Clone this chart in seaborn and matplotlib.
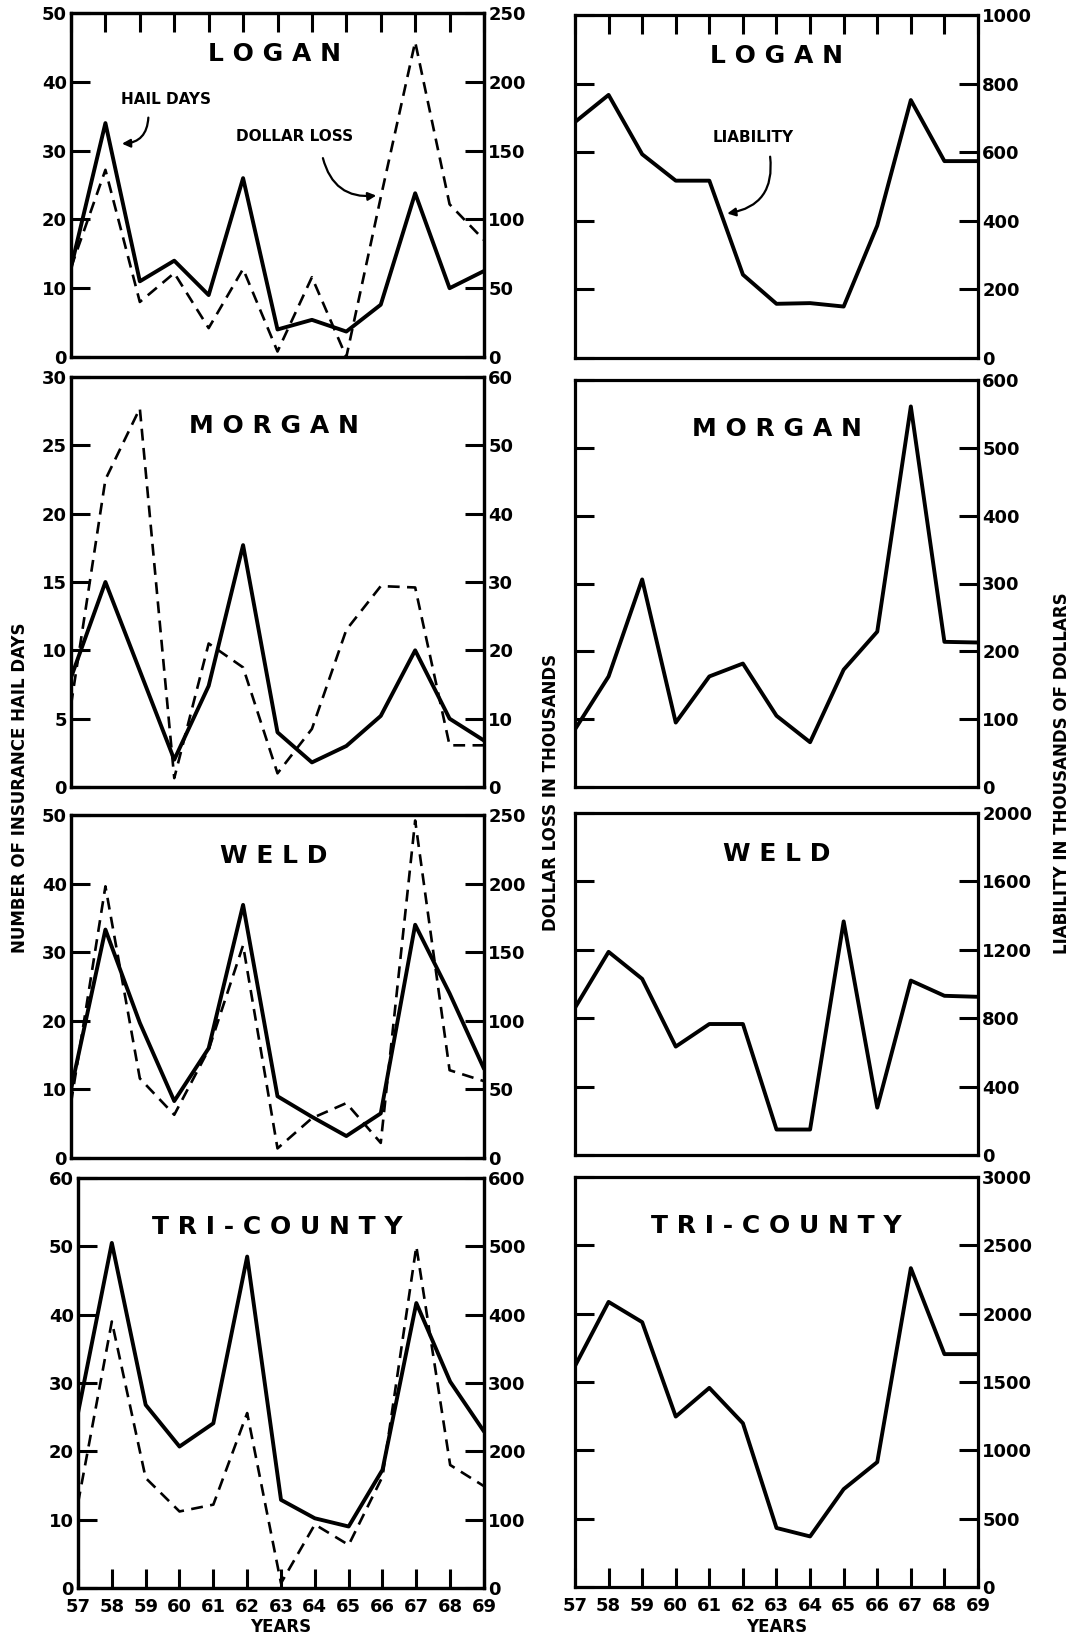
import matplotlib
matplotlib.use("Agg")
import matplotlib.pyplot as plt
from matplotlib import font_manager
import seaborn as sns

YEARS = list(range(57, 70))

# hail days (left axis), dollar loss in thousands (right axis), liability in thousands
LOGAN_DAYS = [13, 34, 11, 14, 9, 26, 4, 5.4, 3.7, 7.6, 23.8, 10, 12.5]
LOGAN_LOSS = [65, 136, 40, 61, 21, 64, 4, 58, 0, 116, 229, 111, 85]
LOGAN_LIAB = [688, 767, 594, 517, 517, 243, 158, 160, 150, 386, 752, 574, 574]

MORGAN_DAYS = [8, 15, 8.5, 2, 7.4, 17.7, 4, 1.8, 3, 5.2, 10, 5, 3.4]
MORGAN_LOSS = [12, 45, 55.4, 1.3, 21, 17.5, 2, 8.5, 23, 29.4, 29.2, 6.1, 6.1]
MORGAN_LIAB = [85, 163, 306, 95, 163, 182, 105, 66, 173, 229, 561, 214, 213]

WELD_DAYS = [10, 33.3, 19.7, 8.3, 16, 36.9, 9, 6, 3.2, 6.5, 34, 24, 13]
WELD_LOSS = [40, 198, 58, 31.5, 79, 155, 7, 29, 40, 11, 246, 64, 56]
WELD_LIAB = [861, 1188, 1030, 634, 766, 766, 149, 149, 1366, 277, 1020, 931, 925]

TRI_DAYS = [25.6, 50.5, 26.8, 20.7, 24.1, 48.5, 12.9, 10.2, 9, 17.3, 41.7, 30.2, 22.9]
TRI_LOSS = [124, 390, 161, 112, 122, 256, 7, 93, 63, 163, 500, 180, 149]
TRI_LIAB = [1617, 2086, 1938, 1247, 1457, 1198, 432, 370, 716, 914, 2333, 1704, 1704]

COUNTIES = ["L O G A N", "M O R G A N", "W E L D", "T R I - C O U N T Y"]
DAYS_TICKS = [range(0, 51, 10), range(0, 31, 5), range(0, 51, 10), range(0, 61, 10)]
LOSS_TICKS = [range(0, 251, 50), range(0, 61, 10), range(0, 251, 50), range(0, 601, 100)]
LIAB_TICKS = [range(0, 1001, 200), range(0, 601, 100), range(0, 2001, 400), range(0, 3001, 500)]

sns.set_style("white")
names = {f.name for f in font_manager.fontManager.ttflist}
FONT = next((n for n in ["Liberation Sans Narrow", "DejaVu Sans"] if n in names), "DejaVu Sans")
plt.rcParams["font.family"] = [FONT, "DejaVu Sans"]
plt.rcParams["font.weight"] = "bold"
plt.rcParams["text.color"] = "black"
plt.rcParams["axes.labelcolor"] = "black"
plt.rcParams["axes.labelweight"] = "bold"

W, H = 1073, 1645
fig = plt.figure(figsize=(W / 100, H / 100), dpi=100)

LEFT_ROWS = [(13, 357), (377, 787), (815, 1158), (1178, 1588)]
LEFT_X0 = [71, 71, 71, 78]
RIGHT_ROWS = [(15, 358), (380, 787), (813, 1155), (1177, 1587)]
LW_SPINE = 2.3
TICK = dict(direction="in", length=14, width=2.2, labelsize=13, colors="black")


def rect(x0, x1, top, bot):
    return [x0 / W, 1 - bot / H, (x1 - x0) / W, (bot - top) / H]


def style_axes(ax):
    for s in ax.spines.values():
        s.set_linewidth(LW_SPINE)
        s.set_color("black")
    ax.set_xlim(57, 69)
    ax.set_xlabel("")
    ax.set_ylabel("")


def set_xticks(ax, row):
    ax.set_xticks(YEARS)
    if row == 0:
        ax.tick_params(axis="x", top=True, bottom=False, labelbottom=False, **TICK)
    elif row == 3:
        ax.tick_params(axis="x", top=False, bottom=True, labelbottom=True, pad=7, **TICK)
        ax.set_xlabel("YEARS", fontsize=12, labelpad=2)
    else:
        ax.tick_params(axis="x", top=False, bottom=False, labelbottom=False)


series = [
    (LOGAN_DAYS, LOGAN_LOSS, LOGAN_LIAB),
    (MORGAN_DAYS, MORGAN_LOSS, MORGAN_LIAB),
    (WELD_DAYS, WELD_LOSS, WELD_LIAB),
    (TRI_DAYS, TRI_LOSS, TRI_LIAB),
]

left_axes, right_axes = [], []
for row, (days, loss, liab) in enumerate(series):
    # left panel: hail days + dollar loss
    ax = fig.add_axes(rect(LEFT_X0[row], 484, *LEFT_ROWS[row]))
    tw = ax.twinx()
    sns.lineplot(x=YEARS, y=days, ax=ax, color="black", lw=2.8)
    sns.lineplot(x=YEARS, y=loss, ax=tw, color="black", lw=1.9,
                 linestyle=(0, (4.5, 2.8)))
    dt, lt = list(DAYS_TICKS[row]), list(LOSS_TICKS[row])
    ax.set_ylim(dt[0], dt[-1])
    tw.set_ylim(lt[0], lt[-1])
    ax.set_yticks(dt)
    tw.set_yticks(lt)
    ax.tick_params(axis="y", left=True, right=False, pad=3, **TICK)
    tw.tick_params(axis="y", right=True, left=False, pad=3, **TICK)
    style_axes(ax)
    style_axes(tw)
    set_xticks(ax, row)
    ax.text(62.9, dt[-1] * 0.88, COUNTIES[row], ha="center", va="center",
            fontsize=18, color="black")
    left_axes.append(ax)

    # right panel: liability
    axr = fig.add_axes(rect(575, 978, *RIGHT_ROWS[row]))
    sns.lineplot(x=YEARS, y=liab, ax=axr, color="black", lw=2.8)
    yt = list(LIAB_TICKS[row])
    axr.set_ylim(yt[0], yt[-1])
    axr.set_yticks(yt)
    axr.tick_params(axis="y", left=True, right=True, labelleft=False,
                    labelright=True, pad=3, **TICK)
    style_axes(axr)
    set_xticks(axr, row)
    axr.text(63.0, yt[-1] * 0.88, COUNTIES[row], ha="center", va="center",
             fontsize=18, color="black")
    right_axes.append(axr)

# annotations in the top row
arrow = dict(arrowstyle="-|>", color="black", lw=1.6, mutation_scale=12)
ax0 = left_axes[0]
ax0.text(59.75, 37.4, "HAIL DAYS", ha="center", va="center", fontsize=11)
ax0.annotate("", xy=(58.4, 31.0), xytext=(59.25, 35.2),
             arrowprops=dict(connectionstyle="arc3,rad=-0.5", **arrow))
ax0.text(63.5, 32.0, "DOLLAR LOSS", ha="center", va="center", fontsize=11)
ax0.annotate("", xy=(65.95, 23.5), xytext=(64.3, 29.3),
             arrowprops=dict(connectionstyle="arc3,rad=0.45", **arrow))
axr0 = right_axes[0]
axr0.text(62.3, 644, "LIABILITY", ha="center", va="center", fontsize=11)
axr0.annotate("", xy=(61.45, 420), xytext=(62.8, 595),
              arrowprops=dict(connectionstyle="arc3,rad=-0.5", **arrow))

# shared axis titles
fig.text(20 / W, 1 - 788 / H, "NUMBER OF INSURANCE HAIL DAYS", rotation=90,
         ha="center", va="center", fontsize=12)
fig.text(551 / W, 1 - 792 / H, "DOLLAR LOSS IN THOUSANDS", rotation=90,
         ha="center", va="center", fontsize=12)
fig.text(1062 / W, 1 - 773 / H, "LIABILITY IN THOUSANDS OF DOLLARS", rotation=90,
         ha="center", va="center", fontsize=12)

fig.savefig("out.png", dpi=100, facecolor="white")
